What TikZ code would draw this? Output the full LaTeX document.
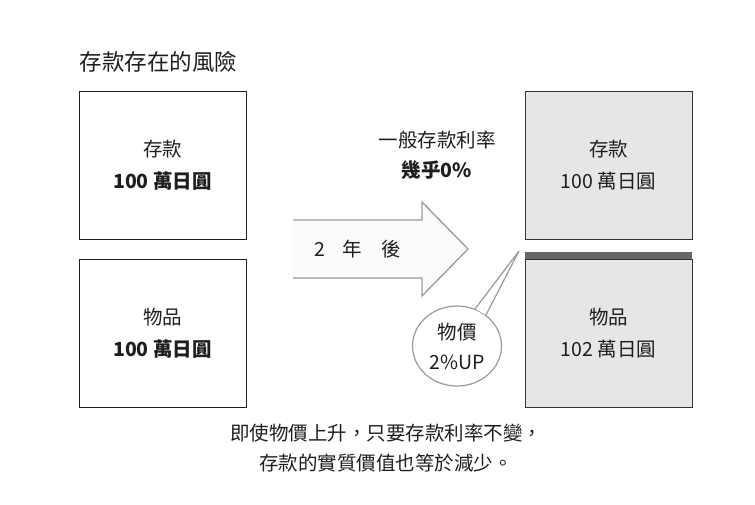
\documentclass[tikz,border=0pt]{standalone}
\usepackage{fontspec}
\setmainfont{Noto Sans CJK TC}
\usetikzlibrary{shapes.geometric}
\definecolor{boxgray}{HTML}{E6E6E6}
\definecolor{bargray}{HTML}{666666}
\definecolor{linegray}{HTML}{9A9A9A}
\definecolor{inkgray}{HTML}{1E1E1E}
\tikzstyle{money} = [rectangle, 
minimum width=167pt, 
minimum height=148pt, 
align=center, 
draw=inkgray, 
line width=0.9pt, 
text=inkgray, 
font=\fontsize{19.5}{32}\selectfont]
\tikzstyle{later} = [money, fill=boxgray, draw=black!80]
\tikzstyle{note} = [align=center, text=inkgray, font=\fontsize{19.5}{30}\selectfont]
\tikzstyle{bubble} = [draw=linegray, line width=1.2pt, fill=white]

\begin{document}
\begin{tikzpicture}[x=1pt, y=-1pt, node distance=168pt]
        \useasboundingbox (0,0) rectangle (755,504);
        \node (title) [anchor=west, text=inkgray, font=\fontsize{22.5}{26}\selectfont] at (76,62) {存款存在的風險};
        \node (savnow) [money] at (162.5,165) {存款\\\textbf{100 萬日圓}};
        \node (goodsnow) [money, below of=savnow] {物品\\\textbf{100 萬日圓}};
        \node (savlater) [later] at (608.5,165.5) {存款\\100 萬日圓};
        \node (goodslater) [later, below of=savlater] {物品\\102 萬日圓};
        \fill [bargray] ([yshift=7pt]goodslater.north west) rectangle (goodslater.north east);
        % big arrow, open at the left end
        \draw [draw=linegray, line width=1.3pt, fill=gray!3] (293,220) -- (422,220) -- (422,202) -- (468,249) -- (422,296) -- (422,278) -- (293,278);
        \node (twoyears) [note] at (358,249) {2\hspace{0.9em}年\hspace{1em}後};
        \node (rate) [note] at (437,155) {一般存款利率\\\textbf{幾乎0\%}};
        \node (bub) [ellipse, bubble, note, minimum width=89pt, minimum height=80pt, inner sep=0pt] at (457,346) {物價\\2\%UP};
        \coordinate (tip) at (519,251);
        \filldraw [bubble] (bub.64) -- (tip) -- (bub.47);
        \node (summary) [note] at (386,448) {即使物價上升，只要存款利率不變，\\存款的實質價值也等於減少。};
    \end{tikzpicture}
\end{document}
